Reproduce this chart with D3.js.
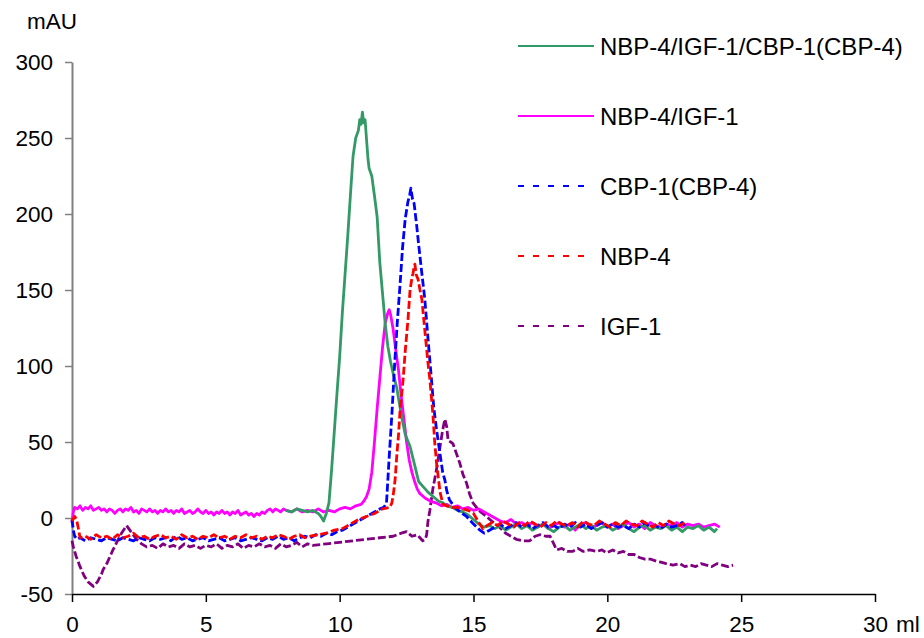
<!DOCTYPE html>
<html><head><meta charset="utf-8">
<script src="https://cdn.jsdelivr.net/npm/d3@7"></script>
<style>body{margin:0;background:#fff}svg{display:block;font-family:"Liberation Sans",Arial,sans-serif}</style>
</head><body><svg id="c" width="924" height="638"></svg>
<script>
const xTicks = [0,5,10,15,20,25,30];
const yTicks = [-50,0,50,100,150,200,250,300];
const seriesNames = ["NBP-4/IGF-1/CBP-1(CBP-4)","NBP-4/IGF-1","CBP-1(CBP-4)","NBP-4","IGF-1"];

const greenData = [[8.0,5],[8.2,4],[8.4,6],[8.6,5],[8.8,4],[9.0,5],[9.2,3],[9.3,1],[9.4,-2],[9.5,3],[9.6,10],[9.7,32],[9.8,57],[9.9,82],[10.0,106],[10.1,135],[10.2,160],[10.3,185],[10.4,212],[10.5,238],[10.6,250],[10.7,255],[10.75,262],[10.8,259],[10.85,267],[10.9,260],[10.95,262],[11.0,250],[11.06,236],[11.1,230],[11.2,225],[11.3,212],[11.4,198],[11.5,168],[11.62,144],[11.7,128],[11.8,113],[11.9,103],[12.0,95],[12.13,86],[12.3,68],[12.45,55],[12.63,47],[12.8,35],[12.95,24],[13.1,21],[13.3,17],[13.5,14],[13.7,11],[13.86,10],[14.0,8],[14.2,7],[14.4,5],[14.6,4],[14.8,2],[15.0,-1],[15.2,-4],[15.4,-6],[15.6,-5],[15.8,-7],[16.0,-5],[16.2,-8],[16.4,-6],[16.6,-4],[16.8,-7],[17.0,-5],[17.2,-8],[17.4,-6],[17.6,-4],[17.8,-7],[18.0,-9],[18.2,-6],[18.4,-5],[18.6,-8],[18.8,-6],[19.0,-4],[19.2,-7],[19.4,-5],[19.6,-8],[19.8,-6],[20.0,-5],[20.2,-8],[20.4,-6],[20.6,-4],[20.8,-7],[21.0,-9],[21.2,-6],[21.4,-5],[21.6,-8],[21.8,-6],[22.0,-7],[22.2,-5],[22.4,-8],[22.6,-6],[22.8,-9],[23.0,-6],[23.2,-7],[23.4,-5],[23.6,-8],[23.8,-6],[24.0,-9],[24.1,-7]];

const pinkData = [[0,-3],[0.05,4],[0.1,7],[0.2,6],[0.3,8],[0.4,5],[0.5,7],[0.6,6],[0.7,8],[0.8,5],[0.9,6],[1.0,7],[1.1,5],[1.2,6],[1.3,4],[1.4,6],[1.5,5],[1.6,3],[1.7,5],[1.8,6],[1.9,4],[2.0,6],[2.1,5],[2.2,7],[2.3,4],[2.4,5],[2.5,3],[2.6,6],[2.7,5],[2.8,4],[2.9,6],[3.0,4],[3.1,5],[3.2,3],[3.3,5],[3.4,4],[3.5,6],[3.6,4],[3.7,5],[3.8,3],[3.9,5],[4.0,4],[4.1,6],[4.2,3],[4.3,4],[4.4,5],[4.5,3],[4.6,4],[4.7,6],[4.8,4],[4.9,3],[5.0,5],[5.1,3],[5.2,4],[5.3,2],[5.4,4],[5.5,3],[5.6,5],[5.7,3],[5.8,4],[5.9,2],[6.0,4],[6.1,3],[6.2,5],[6.3,2],[6.4,3],[6.5,4],[6.6,2],[6.7,3],[6.8,1],[6.9,3],[7.0,2],[7.1,4],[7.2,3],[7.3,5],[7.4,6],[7.5,4],[7.6,6],[7.7,5],[7.8,4],[7.9,6],[8.0,5],[8.2,4],[8.4,6],[8.6,4],[8.8,5],[9.0,4],[9.2,6],[9.4,4],[9.6,5],[9.8,4],[10.0,6],[10.2,7],[10.4,6],[10.6,8],[10.8,9],[10.9,11],[11.0,14],[11.1,19],[11.2,30],[11.3,50],[11.4,72],[11.5,92],[11.6,112],[11.7,128],[11.8,135],[11.85,137],[11.9,134],[12.0,124],[12.1,110],[12.2,97],[12.3,80],[12.4,65],[12.5,50],[12.6,38],[12.7,30],[12.8,24],[12.9,19],[13.0,16],[13.2,13],[13.4,11],[13.6,10],[13.8,8],[14.0,9],[14.2,7],[14.4,8],[14.6,6],[14.8,7],[15.0,5],[15.2,6],[15.4,4],[15.6,2],[15.8,0],[16.0,-2],[16.2,-3],[16.4,-1],[16.6,-4],[16.8,-3],[17.0,-5],[17.2,-3],[17.4,-6],[17.6,-4],[17.8,-7],[18.0,-5],[18.2,-3],[18.4,-6],[18.6,-4],[18.8,-8],[19.0,-4],[19.2,-3],[19.4,-6],[19.6,-5],[19.8,-3],[20.0,-6],[20.2,-4],[20.4,-7],[20.6,-5],[20.8,-3],[21.0,-6],[21.2,-4],[21.4,-7],[21.6,-3],[21.8,-5],[22.0,-6],[22.2,-4],[22.4,-5],[22.6,-3],[22.8,-6],[23.0,-4],[23.2,-5],[23.4,-4],[23.6,-6],[23.8,-5],[24.0,-4],[24.2,-6]];

const blueData = [[0,-1],[0.05,-8],[0.1,-12],[0.2,-14],[0.3,-13],[0.5,-15],[0.7,-13],[0.9,-14],[1.1,-15],[1.3,-13],[1.5,-14],[1.7,-15],[1.9,-13],[2.1,-14],[2.3,-15],[2.5,-13],[2.7,-14],[2.9,-15],[3.1,-13],[3.3,-14],[3.5,-13],[3.7,-15],[3.9,-12],[4.1,-14],[4.3,-13],[4.5,-15],[4.7,-14],[4.9,-13],[5.1,-15],[5.3,-14],[5.5,-13],[5.7,-15],[5.9,-14],[6.1,-13],[6.3,-15],[6.5,-14],[6.7,-13],[6.9,-14],[7.1,-15],[7.3,-13],[7.5,-14],[7.7,-12],[7.9,-14],[8.1,-13],[8.3,-15],[8.5,-13],[8.7,-12],[8.9,-13],[9.1,-11],[9.3,-12],[9.5,-10],[9.7,-11],[9.9,-9],[10.1,-8],[10.3,-6],[10.5,-4],[10.7,-2],[10.9,0],[11.1,2],[11.3,4],[11.5,6],[11.65,7],[11.75,10],[11.85,40],[11.95,68],[12.05,100],[12.15,128],[12.25,152],[12.35,178],[12.45,197],[12.55,208],[12.62,213],[12.66,217],[12.72,210],[12.78,207],[12.88,192],[12.95,180],[13.07,161],[13.18,144],[13.3,118],[13.43,91],[13.52,72],[13.62,58],[13.75,42],[13.85,30],[13.93,25],[14.0,18],[14.1,12],[14.3,7],[14.5,4],[14.74,1],[15.0,-4],[15.24,-8],[15.4,-10],[15.6,-8],[15.8,-6],[16.0,-4],[16.2,-7],[16.4,-5],[16.6,-3],[16.8,-6],[17.0,-4],[17.2,-7],[17.4,-5],[17.6,-3],[17.8,-6],[18.0,-5],[18.2,-7],[18.4,-4],[18.6,-6],[18.8,-3],[19.0,-6],[19.2,-4],[19.4,-7],[19.6,-5],[19.8,-3],[20.0,-6],[20.2,-4],[20.4,-6],[20.6,-5],[20.8,-7],[21.0,-4],[21.2,-6],[21.4,-3],[21.6,-6],[21.8,-5],[22.0,-7],[22.2,-4],[22.4,-6],[22.6,-5],[22.8,-3],[22.9,-5]];

const redData = [[0,-2],[0.1,1],[0.17,-1],[0.25,-8],[0.3,-13],[0.5,-12],[0.7,-14],[0.9,-11],[1.1,-13],[1.3,-12],[1.5,-14],[1.7,-11],[1.9,-13],[2.1,-12],[2.3,-10],[2.5,-13],[2.7,-12],[2.9,-14],[3.1,-12],[3.3,-11],[3.5,-13],[3.7,-12],[3.9,-14],[4.1,-11],[4.3,-13],[4.5,-12],[4.7,-14],[4.9,-12],[5.1,-13],[5.3,-11],[5.5,-13],[5.7,-12],[5.9,-14],[6.1,-12],[6.3,-13],[6.5,-11],[6.7,-13],[6.9,-12],[7.1,-14],[7.3,-12],[7.5,-13],[7.7,-11],[7.9,-12],[8.1,-14],[8.3,-12],[8.5,-11],[8.7,-13],[8.9,-12],[9.2,-11],[9.5,-10],[9.8,-8],[10.1,-7],[10.4,-4],[10.7,-1],[11.0,1],[11.3,3],[11.6,6],[11.88,7],[11.95,10],[12.0,15],[12.07,25],[12.13,40],[12.2,55],[12.25,69],[12.37,91],[12.45,110],[12.55,130],[12.63,150],[12.7,158],[12.74,161],[12.78,165],[12.81,167],[12.86,160],[12.93,157],[13.0,150],[13.07,144],[13.2,120],[13.3,102],[13.37,91],[13.48,69],[13.55,50],[13.62,36],[13.75,17],[13.86,9],[14.0,8],[14.2,7],[14.4,7],[14.6,6],[14.8,5],[15.0,3],[15.2,-3],[15.35,-7],[15.5,-5],[15.7,-3],[15.9,-5],[16.1,-2],[16.3,-4],[16.5,-6],[16.7,-3],[16.9,-5],[17.1,-2],[17.3,-4],[17.5,-6],[17.7,-3],[17.9,-5],[18.1,-2],[18.3,-4],[18.5,-5],[18.7,-3],[18.9,-6],[19.1,-2],[19.3,-4],[19.5,-5],[19.7,-2],[19.9,-4],[20.1,-6],[20.3,-3],[20.5,-5],[20.7,-2],[20.9,-4],[21.1,-5],[21.3,-2],[21.5,-4],[21.7,-6],[21.9,-3],[22.1,-5],[22.3,-2],[22.5,-4],[22.7,-5],[22.9,-3]];

const purpleData = [[0,-15],[0.05,-19],[0.15,-25],[0.3,-32],[0.45,-38],[0.6,-42],[0.8,-45],[0.95,-42],[1.1,-37],[1.16,-34],[1.3,-30],[1.53,-21],[1.7,-15],[1.85,-10],[2.04,-5],[2.2,-9],[2.41,-14],[2.6,-17],[2.79,-19],[3.0,-18],[3.2,-20],[3.4,-17],[3.6,-19],[3.8,-18],[4.0,-20],[4.2,-17],[4.4,-19],[4.6,-18],[4.8,-20],[5.0,-18],[5.2,-19],[5.4,-17],[5.6,-20],[5.8,-18],[6.0,-19],[6.2,-17],[6.4,-20],[6.6,-18],[6.8,-19],[7.0,-17],[7.2,-19],[7.4,-18],[7.6,-20],[7.8,-17],[8.0,-19],[8.2,-18],[8.4,-16],[8.6,-19],[8.8,-17],[9.0,-18],[9.5,-17],[10.0,-16],[10.5,-15],[11.0,-14],[11.5,-13],[12.0,-12],[12.3,-10],[12.5,-9],[12.7,-12],[12.9,-11],[13.0,-13],[13.1,-15],[13.2,-14],[13.25,-11],[13.3,-2],[13.37,5],[13.48,19],[13.62,32],[13.75,47],[13.85,58],[13.93,65],[14.0,60],[14.05,51],[14.15,50],[14.23,49],[14.35,43],[14.49,36],[14.6,29],[14.74,23],[14.85,16],[14.98,10],[15.2,5],[15.49,1],[15.61,-1],[15.9,-5],[16.2,-10],[16.4,-12],[16.6,-14],[16.85,-15],[17.1,-15],[17.3,-12],[17.48,-11],[17.7,-12],[17.86,-12],[18.0,-17],[18.1,-21],[18.3,-20],[18.5,-22],[18.7,-22],[18.9,-20],[19.1,-22],[19.35,-21],[19.6,-22],[19.8,-21],[19.97,-23],[20.2,-21],[20.4,-23],[20.6,-22],[20.8,-24],[21.0,-24],[21.2,-26],[21.4,-27],[21.6,-27],[21.84,-28.5],[22.0,-29],[22.2,-30],[22.45,-31],[22.7,-30],[22.9,-32],[23.1,-31],[23.3,-32],[23.5,-30],[23.7,-31],[23.9,-32],[24.1,-30],[24.3,-31],[24.5,-32],[24.7,-31]];

const series = [
  {name: seriesNames[0], data: greenData, color: "#339966", dash: null},
  {name: seriesNames[1], data: pinkData, color: "#FF00FF", dash: null},
  {name: seriesNames[2], data: blueData, color: "#0000FF", dash: "8,3"},
  {name: seriesNames[3], data: redData, color: "#FF0000", dash: "8,3"},
  {name: seriesNames[4], data: purpleData, color: "#800080", dash: "8,3"}
];

const svg = d3.select("#c");
const x = d3.scaleLinear().domain([0,30]).range([72,875]);
const y = d3.scaleLinear().domain([-50,300]).range([594,62]);

// y axis
const yAx = svg.append("g").attr("transform","translate(72,0)")
  .call(d3.axisLeft(y).tickValues(yTicks).tickSize(7).tickSizeOuter(0).tickPadding(12).tickFormat(d=>d));
yAx.select(".domain").attr("stroke","#808080").attr("stroke-width",2);
yAx.selectAll(".tick line").attr("stroke","#808080").attr("stroke-width",1.5);
yAx.selectAll("text").attr("font-size",22.5).attr("fill","#000").attr("font-family","Liberation Sans, Arial, sans-serif");

// x axis
const xAx = svg.append("g").attr("transform","translate(0,594)")
  .call(d3.axisBottom(x).tickValues(xTicks).tickSize(8).tickSizeOuter(0).tickPadding(14).tickFormat(d=>d));
xAx.select(".domain").attr("stroke","#000").attr("stroke-width",1.5);
xAx.selectAll(".tick line").attr("stroke","#000").attr("stroke-width",1.5);
xAx.selectAll("text").attr("font-size",22.5).attr("fill","#000").attr("font-family","Liberation Sans, Arial, sans-serif");

svg.append("text").attr("x",896).attr("y",632).attr("font-size",22.5).text("ml");
svg.append("text").attr("x",27).attr("y",28.5).attr("font-size",22.5).text("mAU");

const line = d3.line().x(d=>x(d[0])).y(d=>y(d[1]));
// draw order: purple, pink, green, blue, red
[4,1,0,2,3].forEach(i=>{
  const s = series[i];
  svg.append("path").datum(s.data).attr("d",line).attr("fill","none")
    .attr("stroke",s.color).attr("stroke-width",2.8).attr("stroke-linejoin","round")
    .attr("stroke-dasharray",s.dash);
});

// legend
const lg = svg.append("g");
series.forEach((s,i)=>{
  const cy = 46 + i*70;
  lg.append("line").attr("x1",518).attr("x2",s.dash?590:594).attr("y1",cy).attr("y2",cy)
    .attr("stroke",s.color).attr("stroke-width",2.2).attr("stroke-dasharray",s.dash?"6,9":null);
  lg.append("text").attr("x",600).attr("y",cy+8.5).attr("font-size",24).text(s.name);
});
</script></body></html>
